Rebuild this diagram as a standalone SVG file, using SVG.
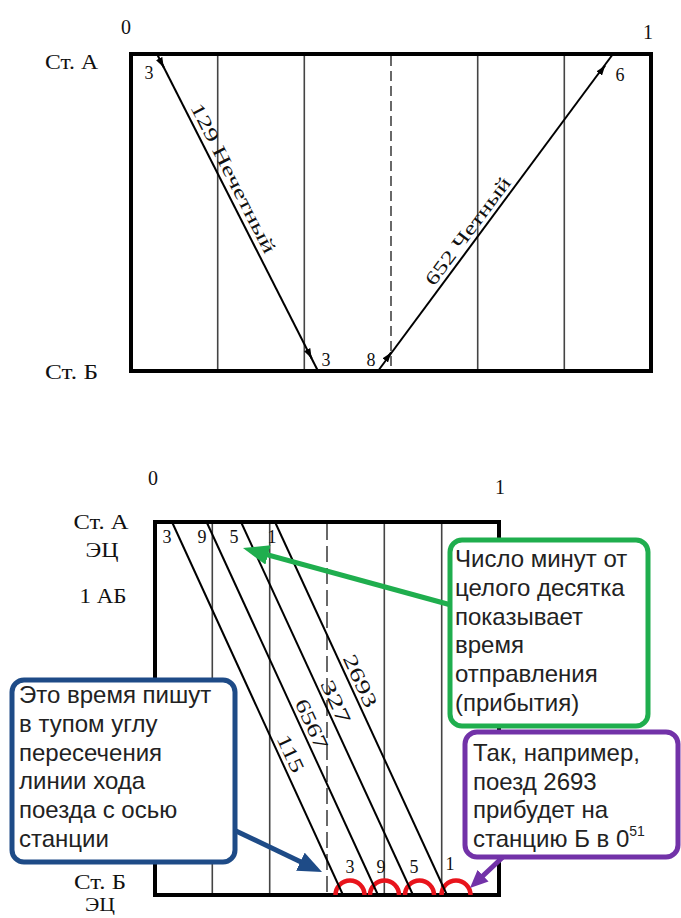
<svg xmlns="http://www.w3.org/2000/svg" width="681" height="918" viewBox="0 0 681 918">
<defs>
<style>
.serif{font-family:"Liberation Serif","DejaVu Serif",serif;fill:#111}
.sans{font-family:"Liberation Sans",Arial,sans-serif;fill:#222;font-size:24px}
.border{fill:none;stroke:#000;stroke-width:4}
.grid{stroke:#444;stroke-width:1.6}
.dash{stroke:#444;stroke-width:1.6;stroke-dasharray:10 5}
.dash2{stroke:#444;stroke-width:1.6;stroke-dasharray:16 6}
.train{stroke:#000;stroke-width:2;fill:none}
.arc{fill:none;stroke:#e8141c;stroke-width:4.5}
.box{fill:#fff;stroke-width:5}
</style>
<marker id="sa" viewBox="0 0 10 7" refX="10" refY="3.5" markerWidth="10" markerHeight="7" markerUnits="userSpaceOnUse" orient="auto">
<path d="M0,0 L10,3.5 L0,7 z" fill="#000"/>
</marker>
<marker id="ag" viewBox="0 0 26 20" refX="16" refY="10" markerWidth="26" markerHeight="20" markerUnits="userSpaceOnUse" orient="auto">
<path d="M0,0 L26,10 L0,20 z" fill="#1fae4e"/>
</marker>
<marker id="ab" viewBox="0 0 24 20" refX="14" refY="10" markerWidth="24" markerHeight="20" markerUnits="userSpaceOnUse" orient="auto">
<path d="M0,0 L24,10 L0,20 z" fill="#1e4b87"/>
</marker>
<marker id="ap" viewBox="0 0 18 16" refX="10" refY="8" markerWidth="18" markerHeight="16" markerUnits="userSpaceOnUse" orient="auto">
<path d="M0,0 L18,8 L0,16 z" fill="#7232a8"/>
</marker>
</defs>
<rect width="681" height="918" fill="#fff"/>

<!-- Top chart -->
<g id="chart-top">
<line class="grid" x1="217.7" y1="54" x2="217.7" y2="371"/>
<line class="grid" x1="304.3" y1="54" x2="304.3" y2="371"/>
<line class="dash" x1="391" y1="56" x2="391" y2="371"/>
<line class="grid" x1="477.7" y1="54" x2="477.7" y2="371"/>
<line class="grid" x1="564.3" y1="54" x2="564.3" y2="371"/>
<rect class="border" x="131" y="54" width="520" height="317"/>
</g>
<g id="labels-top" class="serif" font-size="20">
<text x="126" y="34" text-anchor="middle">0</text>
<text x="648" y="39" text-anchor="middle">1</text>
<text x="45" y="69" font-size="21" textLength="53" lengthAdjust="spacingAndGlyphs">Ст. А</text>
<text x="45" y="379" font-size="21" textLength="53" lengthAdjust="spacingAndGlyphs">Ст. Б</text>
<text x="149" y="79" text-anchor="middle" font-size="18">3</text>
<text x="620" y="81" text-anchor="middle" font-size="18">6</text>
<text x="326" y="366" text-anchor="middle" font-size="18">3</text>
<text x="371" y="366" text-anchor="middle" font-size="18">8</text>
</g>
<g id="train-labels-top" class="serif" font-size="19">
<text transform="translate(190,107) rotate(63.1)" textLength="166" lengthAdjust="spacingAndGlyphs">129  Нечетный</text>
<text transform="translate(434,287) rotate(-53.3)" textLength="130" lengthAdjust="spacingAndGlyphs">652 Четный</text>
</g>

<!-- Bottom chart -->
<g id="chart-bottom">
<line class="grid" x1="212.3" y1="522" x2="212.3" y2="895"/>
<line class="grid" x1="269.7" y1="522" x2="269.7" y2="895"/>
<line class="dash2" x1="327" y1="524" x2="327" y2="895"/>
<line class="grid" x1="384.3" y1="522" x2="384.3" y2="895"/>
<line class="grid" x1="441.7" y1="522" x2="441.7" y2="895"/>
<rect class="border" x="155" y="522" width="344" height="373"/>
</g>
<g id="labels-bottom" class="serif" font-size="21">
<text x="153" y="485" text-anchor="middle" font-size="20">0</text>
<text x="500" y="494" text-anchor="middle" font-size="20">1</text>
<text x="101" y="529" text-anchor="middle" textLength="55" lengthAdjust="spacingAndGlyphs">Ст. А</text>
<text x="102" y="557" text-anchor="middle" textLength="33" lengthAdjust="spacingAndGlyphs">ЭЦ</text>
<text x="103" y="603" text-anchor="middle" textLength="47" lengthAdjust="spacingAndGlyphs">1 АБ</text>
<text x="100" y="889" text-anchor="middle" textLength="52" lengthAdjust="spacingAndGlyphs">Ст. Б</text>
<text x="100" y="911" text-anchor="middle" font-size="19" textLength="30" lengthAdjust="spacingAndGlyphs">ЭЦ</text>
<text x="167" y="543" text-anchor="middle" font-size="18">3</text>
<text x="202" y="543" text-anchor="middle" font-size="18">9</text>
<text x="234" y="543" text-anchor="middle" font-size="18">5</text>
<text x="272" y="543" text-anchor="middle" font-size="18">1</text>
<text x="350" y="873" text-anchor="middle" font-size="18">3</text>
<text x="381" y="873" text-anchor="middle" font-size="18">9</text>
<text x="414" y="873" text-anchor="middle" font-size="18">5</text>
<text x="450" y="870" text-anchor="middle" font-size="18">1</text>
</g>

<!-- Connectors: train lines, arcs, callout arrows -->
<g id="connectors">
<line class="train" x1="157" y1="54" x2="318" y2="371"/>
<line class="train" x1="378" y1="371" x2="613" y2="54"/>
<path class="train" d="M161.5,63 L163.8,67.4" marker-end="url(#sa)"/>
<path class="train" d="M309.4,354 L311.7,358.5" marker-end="url(#sa)"/>
<path class="train" d="M388.2,356.4 L391.2,352.4" marker-end="url(#sa)"/>
<path class="train" d="M602.2,69.4 L605.2,65.4" marker-end="url(#sa)"/>

<path class="arc" d="M335.5,895 A14.5,14.5 0 0 1 364.5,895"/>
<path class="arc" d="M370,895 A14.5,14.5 0 0 1 399,895"/>
<path class="arc" d="M405,895 A14.5,14.5 0 0 1 434,895"/>
<path class="arc" d="M441.5,895 A14.5,14.5 0 0 1 470.5,895"/>

<line class="train" x1="172" y1="522" x2="343" y2="895"/>
<line class="train" x1="206.6" y1="522" x2="378" y2="895"/>
<line class="train" x1="241" y1="522" x2="413" y2="895"/>
<line class="train" x1="275" y1="522" x2="447" y2="895"/>

<line x1="451" y1="605" x2="252.6" y2="550.7" stroke="#1fae4e" stroke-width="5" marker-end="url(#ag)"/>
<line x1="236" y1="831" x2="313" y2="867.7" stroke="#1e4b87" stroke-width="5" marker-end="url(#ab)"/>
<line x1="504" y1="856" x2="475.8" y2="882.5" stroke="#7232a8" stroke-width="5" marker-end="url(#ap)"/>
</g>
<g id="train-labels-bottom" class="serif" font-size="20">
<text transform="translate(342.4,658.3) rotate(65.2)" textLength="56" lengthAdjust="spacingAndGlyphs">2693</text>
<text transform="translate(320,683.7) rotate(65.2)" textLength="46" lengthAdjust="spacingAndGlyphs">327</text>
<text transform="translate(294.4,702.8) rotate(65.2)" textLength="53" lengthAdjust="spacingAndGlyphs">6567</text>
<text transform="translate(276.2,738.2) rotate(65.2)" textLength="40" lengthAdjust="spacingAndGlyphs">115</text>
</g>

<!-- Callouts -->
<g id="callout-green">
<rect class="box" x="450" y="540" width="198" height="186" rx="12" stroke="#1fae4e"/>
<text class="sans">
<tspan x="455" y="567">Число минут от</tspan>
<tspan x="455" y="596">целого десятка</tspan>
<tspan x="455" y="624.5">показывает</tspan>
<tspan x="455" y="653">время</tspan>
<tspan x="455" y="682">отправления</tspan>
<tspan x="455" y="710.5">(прибытия)</tspan>
</text>
</g>
<g id="callout-blue">
<rect class="box" x="12" y="680" width="223" height="182" rx="12" stroke="#1e4b87"/>
<text class="sans">
<tspan x="19" y="703">Это время пишут</tspan>
<tspan x="19" y="731.5">в тупом углу</tspan>
<tspan x="19" y="760.5">пересечения</tspan>
<tspan x="19" y="789">линии хода</tspan>
<tspan x="19" y="818">поезда с осью</tspan>
<tspan x="19" y="846.5">станции</tspan>
</text>
</g>
<g id="callout-purple">
<rect class="box" x="465" y="732" width="213" height="125" rx="12" stroke="#7232a8"/>
<text class="sans">
<tspan x="473" y="761">Так, например,</tspan>
<tspan x="473" y="789.5">поезд 2693</tspan>
<tspan x="473" y="818">прибудет на</tspan>
<tspan x="473" y="846.5">станцию Б в 0</tspan><tspan dy="-11" font-size="14">51</tspan>
</text>
</g>
</svg>
